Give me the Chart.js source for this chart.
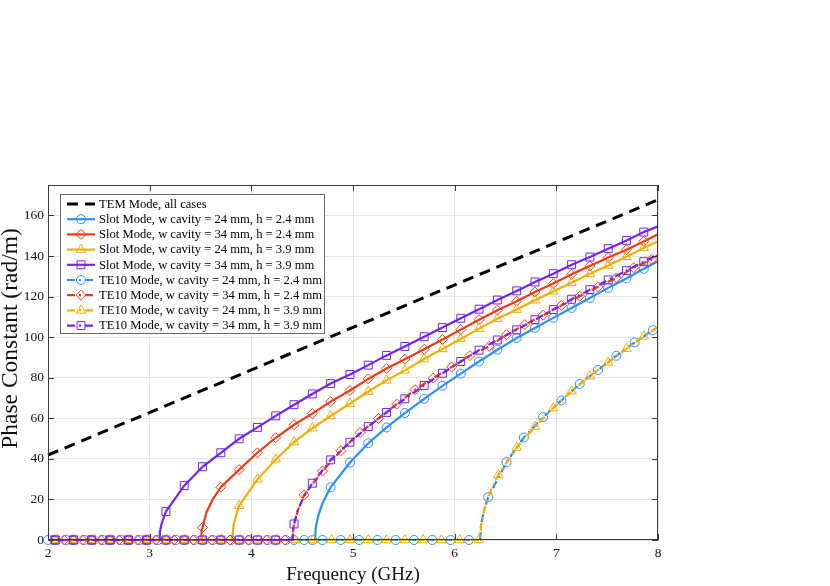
<!DOCTYPE html>
<html><head><meta charset="utf-8">
<script src="https://cdn.jsdelivr.net/npm/chart.js@4.4.1/dist/chart.umd.min.js"></script>
<style>html,body{margin:0;padding:0;background:#fff;}#wrap{width:830px;height:586px;}</style>
</head><body><div id="wrap"><canvas id="c" width="830" height="586"></canvas></div>
<script>
// ---------- data ----------
const xTicks = [2, 3, 4, 5, 6, 7, 8];
const yTicks = [0, 20, 40, 60, 80, 100, 120, 140, 160];
const xTitle = 'Frequency (GHz)';
const yTitle = 'Phase Constant (rad/m)';

const temFreq = [2, 8];
const temBeta = [41.9, 167.7];

const slotFreq = [2.07,2.25,2.43,2.61,2.79,2.97,3.16,3.34,3.52,3.70,3.88,4.06,4.24,4.42,4.60,4.78,4.97,5.15,5.33,5.51,5.70,5.88,6.06,6.24,6.42,6.61,6.79,6.97,7.15,7.33,7.51,7.69,7.86];
const slotBlueBeta   = [0,0,0,0,0,0,0,0,0,0,0,0,0,0,0,26.0,38.2,47.7,55.5,62.6,69.6,76.0,82.0,88.0,93.8,99.6,104.5,109.5,114.4,119.3,124.3,128.9,133.7];
const slotRedBeta    = [0,0,0,0,0,0,0,0,6.2,26.0,34.7,43.0,50.4,56.8,62.3,68.2,73.7,79.4,84.5,89.1,94.0,98.8,103.7,108.6,113.3,117.7,122.3,126.4,131.0,135.1,139.2,143.1,147.2];
const slotOrangeBeta = [0,0,0,0,0,0,0,0,0,0,16.9,29.9,39.7,48.3,55.1,61.2,67.2,73.2,78.7,83.6,89.2,94.2,99.1,104.2,109.1,113.6,118.2,122.6,126.8,131.2,135.3,139.6,144.0];
const slotPurpleBeta = [0,0,0,0,0,0,14.0,26.8,36.1,43.0,49.9,55.5,61.2,66.7,72.0,77.1,81.6,86.2,91.0,95.4,100.2,104.7,109.3,113.8,118.3,122.8,127.2,131.3,135.7,139.5,143.6,147.7,151.8];

const te10BlueFreq = [2.00,2.18,2.36,2.54,2.72,2.90,3.08,3.26,3.44,3.62,3.80,3.98,4.16,4.34,4.52,4.70,4.88,5.06,5.24,5.42,5.60,5.78,5.96,6.14,6.33,6.51,6.68,6.87,7.05,7.23,7.41,7.59,7.77,7.95];
const te10BlueBeta = [0,0,0,0,0,0,0,0,0,0,0,0,0,0,0,0,0,0,0,0,0,0,0,0,21.1,38.4,50.5,60.6,68.8,76.9,83.8,90.8,97.4,103.4];
const te10RedFreq = [2.16,2.34,2.52,2.70,2.88,3.06,3.24,3.43,3.61,3.79,3.97,4.15,4.33,4.52,4.70,4.88,5.07,5.25,5.43,5.61,5.79,5.97,6.15,6.34,6.51,6.69,6.87,7.05,7.23,7.41,7.59,7.76,7.94];
const te10RedBeta = [0,0,0,0,0,0,0,0,0,0,0,0,0,22.2,34.0,44.0,53.0,59.9,67.0,74.1,79.8,85.3,90.9,95.5,101.2,106.2,110.8,115.6,120.2,124.8,129.2,134.2,138.3];
const te10OrangeFreq = [2.09,2.27,2.45,2.63,2.81,2.99,3.17,3.35,3.53,3.71,3.89,4.07,4.25,4.43,4.61,4.79,4.97,5.15,5.33,5.51,5.69,5.87,6.05,6.24,6.43,6.61,6.79,6.97,7.15,7.33,7.51,7.69,7.86];
const te10OrangeBeta = [0,0,0,0,0,0,0,0,0,0,0,0,0,0,0,0,0,0,0,0,0,0,0,0,32.1,45.6,55.9,65.0,73.4,80.8,87.5,94.3,100.4];
const te10PurpleFreq = slotFreq;
const te10PurpleBeta = [0,0,0,0,0,0,0,0,0,0,0,0,0,7.9,28.0,39.5,48.2,55.9,62.9,69.6,76.2,82.2,88.0,93.6,98.6,103.6,108.6,113.6,118.7,123.4,128.2,132.8,137.2];

// cutoff frequencies, unmarked points read near each cutoff, and value at 8 GHz
const cutoffs   = [4.625, 3.505, 3.81, 3.095, 6.25, 4.405, 6.25, 4.405];
const nearFreq  = [[4.635,4.66,4.70],[3.51,3.56,3.62],[3.825,3.85],[3.10,3.115,3.13],[6.26,6.29],[4.41,4.42,4.46],[6.26,6.29,6.36],[4.41,4.46,4.51]];
const nearBeta  = [[6.6,12.3,18.1],[4.2,13.8,20.0],[7.3,12.0],[3.8,7.5,9.9],[7.5,14.9],[4.5,7.9,15.0],[7.5,14.9,25.0],[4.5,15.0,20.7]];
const endBeta   = [137.4, 150.7, 147.3, 154.6, 105.0, 140.6, 105.0, 140.6];

const labels = [
  'TEM Mode, all cases',
  'Slot Mode, w cavity = 24 mm, h = 2.4 mm',
  'Slot Mode, w cavity = 34 mm, h = 2.4 mm',
  'Slot Mode, w cavity = 24 mm, h = 3.9 mm',
  'Slot Mode, w cavity = 34 mm, h = 3.9 mm',
  'TE10 Mode, w cavity = 24 mm, h = 2.4 mm',
  'TE10 Mode, w cavity = 34 mm, h = 2.4 mm',
  'TE10 Mode, w cavity = 24 mm, h = 3.9 mm',
  'TE10 Mode, w cavity = 34 mm, h = 3.9 mm'
];

// ---------- styles ----------
const BLUE = '#2f8ef6', RED = '#ec3a14', ORANGE = '#f2ad00', PURPLE = '#7424f2';
const FONT = "'Liberation Serif', 'Times New Roman', serif";
const DASHDOT = [8, 4, 2, 4];

function buildPoints(mF, mB, fc, nF, nB, eB) {
  const pts = [{x: 2, y: 0, m: false}];
  mF.forEach((f, i) => pts.push({x: f, y: mB[i], m: true}));
  pts.push({x: fc, y: 0, m: false});
  nF.forEach((f, i) => pts.push({x: f, y: nB[i], m: false}));
  pts.push({x: 8, y: eB, m: false});
  pts.sort((a, b) => a.x - b.x);
  return pts;
}

const seriesDefs = [
  {f: slotFreq, b: slotBlueBeta, color: BLUE, shape: 'circle', r: 4.5, dash: [], w: 2.2, off: 0},
  {f: slotFreq, b: slotRedBeta, color: RED, shape: 'rectRot', r: 5, dash: [], w: 2.2, off: 0},
  {f: slotFreq, b: slotOrangeBeta, color: ORANGE, shape: 'triangle', r: 5.5, dash: [], w: 2.2, off: 0},
  {f: slotFreq, b: slotPurpleBeta, color: PURPLE, shape: 'rect', r: 5.6, dash: [], w: 2.2, off: 0},
  {f: te10BlueFreq, b: te10BlueBeta, color: BLUE, shape: 'circle', r: 4.5, dash: DASHDOT, w: 2.2, off: 0},
  {f: te10RedFreq, b: te10RedBeta, color: RED, shape: 'rectRot', r: 5, dash: DASHDOT, w: 2.2, off: 0},
  {f: te10OrangeFreq, b: te10OrangeBeta, color: ORANGE, shape: 'triangle', r: 5.5, dash: DASHDOT, w: 2.2, off: 9},
  {f: te10PurpleFreq, b: te10PurpleBeta, color: PURPLE, shape: 'rect', r: 5.6, dash: DASHDOT, w: 2.2, off: 9}
];

const datasets = [{
  label: labels[0],
  data: temFreq.map((f, i) => ({x: f, y: temBeta[i], m: false})),
  borderColor: '#000', borderWidth: 3, borderDash: [11, 7], pointRadius: 0,
  showLine: true, order: 20, clip: false, shape: null
}];
seriesDefs.forEach((s, i) => {
  datasets.push({
    label: labels[i + 1],
    data: buildPoints(s.f, s.b, cutoffs[i], nearFreq[i], nearBeta[i], endBeta[i]),
    borderColor: s.color, borderWidth: s.w, borderDash: s.dash, borderDashOffset: s.off,
    pointStyle: s.shape,
    pointRadius: ctx => (ctx.raw && ctx.raw.m) ? s.r : 0,
    pointBorderColor: s.color, pointBackgroundColor: 'rgba(0,0,0,0)', pointBorderWidth: 1,
    showLine: true, tension: 0, order: 19 - i, clip: false,
    shape: s.shape, markR: s.r
  });
});

// ---------- marker drawing for legend ----------
function drawMarker(ctx, shape, r, x, y) {
  ctx.beginPath();
  if (shape === 'circle') {
    ctx.arc(x, y, r, 0, Math.PI * 2);
  } else if (shape === 'rectRot') {
    ctx.moveTo(x - r, y); ctx.lineTo(x, y - r); ctx.lineTo(x + r, y); ctx.lineTo(x, y + r); ctx.closePath();
  } else if (shape === 'triangle') {
    let a = 0;
    ctx.moveTo(x + Math.sin(a) * r, y - Math.cos(a) * r);
    a += 2 * Math.PI / 3; ctx.lineTo(x + Math.sin(a) * r, y - Math.cos(a) * r);
    a += 2 * Math.PI / 3; ctx.lineTo(x + Math.sin(a) * r, y - Math.cos(a) * r);
    ctx.closePath();
  } else if (shape === 'rect') {
    const s = Math.SQRT1_2 * r;
    ctx.rect(x - s, y - s, 2 * s, 2 * s);
  }
  ctx.stroke();
}

const framePlugin = {
  id: 'frame',
  afterDatasetsDraw(chart) {
    const {ctx, chartArea: a, scales: {x, y}} = chart;
    ctx.save();
    // box
    ctx.strokeStyle = '#3a3a3a'; ctx.lineWidth = 1; ctx.setLineDash([]);
    ctx.strokeRect(Math.round(a.left) + 0.5, Math.round(a.top) + 0.5, Math.round(a.right - a.left) - 1, Math.round(a.bottom - a.top) - 1);
    // inward ticks
    const L = 6;
    ctx.beginPath();
    xTicks.forEach(v => {
      const px = Math.round(x.getPixelForValue(v)) + 0.5;
      ctx.moveTo(px, a.bottom); ctx.lineTo(px, a.bottom - L);
      ctx.moveTo(px, a.top); ctx.lineTo(px, a.top + L);
    });
    yTicks.forEach(v => {
      const py = Math.round(y.getPixelForValue(v)) + 0.5;
      ctx.moveTo(a.left, py); ctx.lineTo(a.left + L, py);
      ctx.moveTo(a.right, py); ctx.lineTo(a.right - L, py);
    });
    ctx.stroke();

    // y axis title
    ctx.save();
    ctx.translate(16.5, 338.5);
    ctx.rotate(-Math.PI / 2);
    ctx.font = '23.5px ' + FONT; ctx.fillStyle = '#111';
    ctx.textAlign = 'center'; ctx.textBaseline = 'alphabetic';
    ctx.fillText(yTitle, 0, 0);
    ctx.restore();

    // legend
    const bx = 60.5, by = 194.5, bw = 264, bh = 139;
    ctx.fillStyle = '#fff'; ctx.fillRect(bx, by, bw, bh);
    ctx.strokeStyle = '#6a6a6a'; ctx.lineWidth = 1; ctx.strokeRect(bx, by, bw, bh);
    ctx.font = '12.6px ' + FONT; ctx.textBaseline = 'middle'; ctx.textAlign = 'left';
    chart.data.datasets.forEach((ds, i) => {
      const yy = 204 + i * 15.2;
      ctx.save();
      ctx.strokeStyle = ds.borderColor; ctx.lineWidth = ds.borderWidth;
      ctx.setLineDash(ds.borderDash || []);
      ctx.beginPath(); ctx.moveTo(67, yy); ctx.lineTo(95, yy); ctx.stroke();
      ctx.setLineDash([]);
      if (ds.shape) { ctx.lineWidth = 1; drawMarker(ctx, ds.shape, ds.markR, 81, yy); }
      ctx.restore();
      ctx.fillStyle = '#000';
      ctx.fillText(ds.label, 99, yy + 0.5);
    });
    ctx.restore();
  }
};

Chart.defaults.font.family = FONT;
new Chart(document.getElementById('c'), {
  type: 'scatter',
  data: {datasets},
  options: {
    responsive: false, animation: false, events: [],
    layout: {padding: {top: 185, right: 172, bottom: 0, left: 0}},
    plugins: {legend: {display: false}, tooltip: {enabled: false}},
    scales: {
      x: {
        type: 'linear', min: 2, max: 8,
        afterFit: s => { s.height = 46; },
        afterBuildTicks: s => { s.ticks = xTicks.map(v => ({value: v})); },
        grid: {color: '#e4e4e4', lineWidth: 1, drawTicks: false},
        border: {display: false},
        ticks: {color: '#111', font: {size: 13.5}, padding: 5, maxRotation: 0},
        title: {display: true, text: xTitle, color: '#111', font: {size: 19}, padding: {top: 0, bottom: 0}}
      },
      y: {
        type: 'linear', min: 0, max: 175,
        afterFit: s => { s.width = 48; },
        afterBuildTicks: s => { s.ticks = yTicks.map(v => ({value: v})); },
        grid: {color: '#e4e4e4', lineWidth: 1, drawTicks: false},
        border: {display: false},
        ticks: {color: '#111', font: {size: 13.5}, padding: 4},
        title: {display: false}
      }
    }
  },
  plugins: [framePlugin]
});
</script>
</body></html>
